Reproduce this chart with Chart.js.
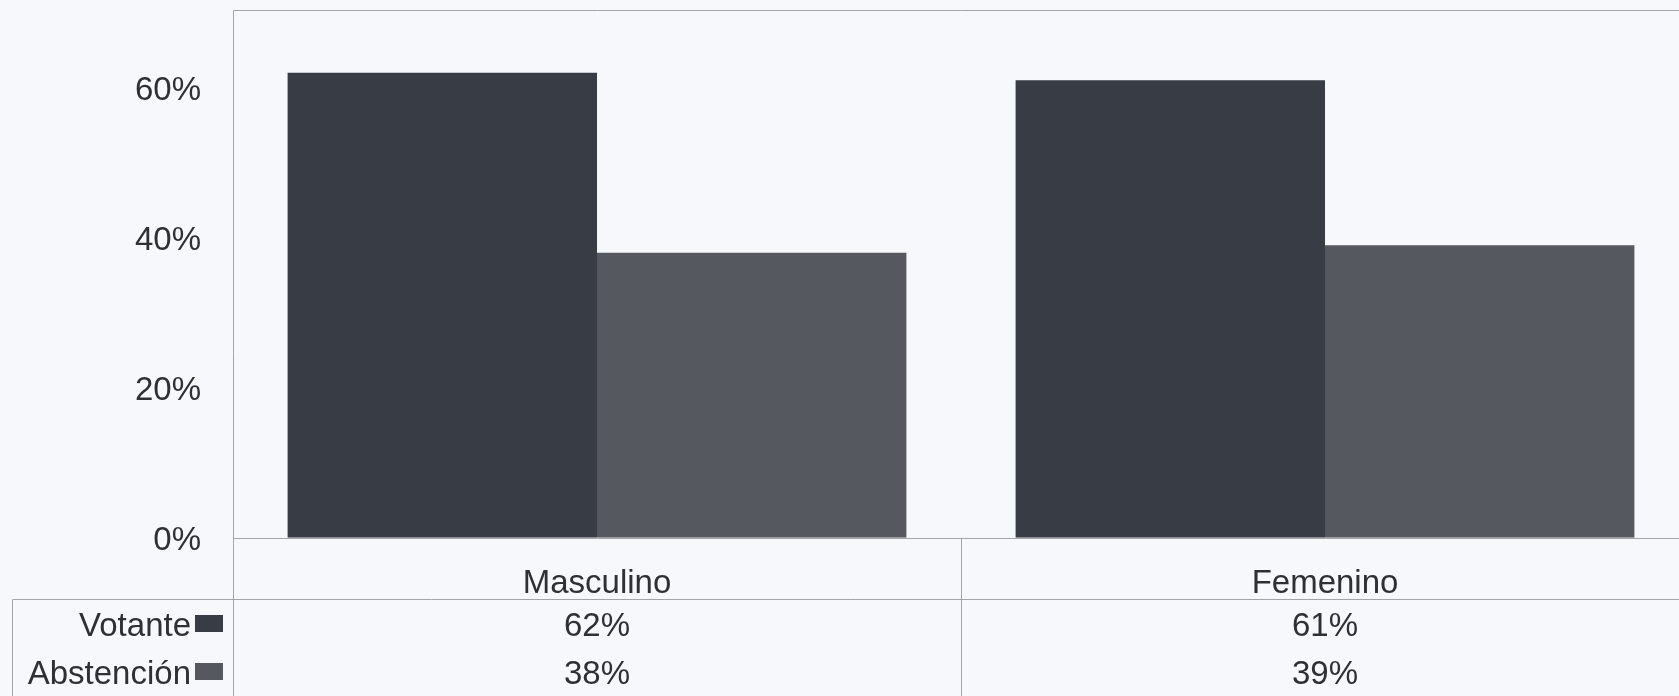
<!DOCTYPE html>
<html>
<head>
<meta charset="utf-8">
<script src="https://cdn.jsdelivr.net/npm/chart.js@4.4.1/dist/chart.umd.min.js"></script>
<style>
    html, body { margin: 0; padding: 0; overflow: hidden; background: #f7f8fc; }
    canvas { display: block; }
</style>
</head>
<body>
<canvas id="votoChart" width="1689" height="696"></canvas>
<script>
// Data
const categories = ['Masculino', 'Femenino'];
const votante = [62, 61];
const abstencion = [38, 39];
const seriesNames = ['Votante', 'Abstención'];
const yTicks = [0, 20, 40, 60];

const barColors = ['#383d45', '#55585f'];
const lineColor = '#a3a3a8';
const textColor = '#2f3033';
const font = { family: '"Liberation Sans", Arial, sans-serif', size: 33 };

// Draws frame lines and the data table under the plot
const dataTable = {
    id: 'dataTable',
    afterDraw(chart) {
        const { ctx, chartArea, scales } = chart;
        const x = scales.x;
        const right = chart.width;
        const bottom = chart.height;
        const left = Math.round(chartArea.left) + 0.5;
        const base = Math.round(chartArea.bottom) + 0.5;
        const tableTop = 599.5;
        const mid = Math.round((x.getPixelForValue(0) + x.getPixelForValue(1)) / 2) + 0.5;

        ctx.save();
        ctx.strokeStyle = lineColor;
        ctx.lineWidth = 1;
        ctx.beginPath();
        ctx.moveTo(left, 10.5); ctx.lineTo(right, 10.5);          // top frame
        ctx.moveTo(left, 10.5); ctx.lineTo(left, bottom);         // left frame + table column
        ctx.moveTo(left, base); ctx.lineTo(right, base);          // baseline
        ctx.moveTo(mid, base); ctx.lineTo(mid, bottom);           // category divider
        ctx.moveTo(12.5, tableTop); ctx.lineTo(right, tableTop);  // table header line
        ctx.moveTo(12.5, tableTop); ctx.lineTo(12.5, bottom);     // table left edge
        ctx.stroke();

        ctx.font = font.size + 'px ' + font.family;
        ctx.fillStyle = textColor;
        ctx.textBaseline = 'middle';
        const rows = [votante, abstencion];
        const rowY = [627, 675];
        rows.forEach((vals, i) => {
            ctx.textAlign = 'right';
            ctx.fillStyle = textColor;
            ctx.fillText(seriesNames[i], 191, rowY[i]);
            ctx.fillStyle = barColors[i];
            ctx.fillRect(195, rowY[i] - 12, 28, 17);
            ctx.fillStyle = textColor;
            ctx.textAlign = 'center';
            vals.forEach((v, j) => {
                ctx.fillText(Math.round(v) + '%', x.getPixelForValue(j), rowY[i]);
            });
        });
        ctx.restore();
    }
};

new Chart(document.getElementById('votoChart').getContext('2d'), {
    type: 'bar',
    data: {
        labels: categories,
        datasets: [
            { label: seriesNames[0], data: votante, backgroundColor: barColors[0] },
            { label: seriesNames[1], data: abstencion, backgroundColor: barColors[1] }
        ]
    },
    options: {
        responsive: false,
        animation: false,
        devicePixelRatio: 1,
        layout: { padding: { top: 12.7, left: 0, right: 0, bottom: 0 } },
        datasets: { bar: { categoryPercentage: 0.85, barPercentage: 1.0 } },
        scales: {
            x: {
                grid: { display: false, drawTicks: false },
                border: { display: false },
                ticks: { color: textColor, font: font, padding: 26 },
                afterFit: (scale) => {
                    scale.height = 158.3;
                    scale.paddingLeft = 0;
                    scale.paddingRight = 0;
                }
            },
            y: {
                min: 0,
                max: 70,
                grid: { display: false, drawTicks: false },
                border: { display: false },
                ticks: {
                    color: textColor,
                    font: font,
                    padding: 32,
                    labelOffset: 3,
                    callback: (v) => v + '%'
                },
                afterBuildTicks: (scale) => { scale.ticks = yTicks.map(v => ({ value: v })); },
                afterFit: (scale) => {
                    scale.width = 233;
                    scale.paddingTop = 0;
                    scale.paddingBottom = 0;
                }
            }
        },
        plugins: {
            legend: { display: false },
            tooltip: { enabled: false }
        }
    },
    plugins: [dataTable]
});
</script>
</body>
</html>
